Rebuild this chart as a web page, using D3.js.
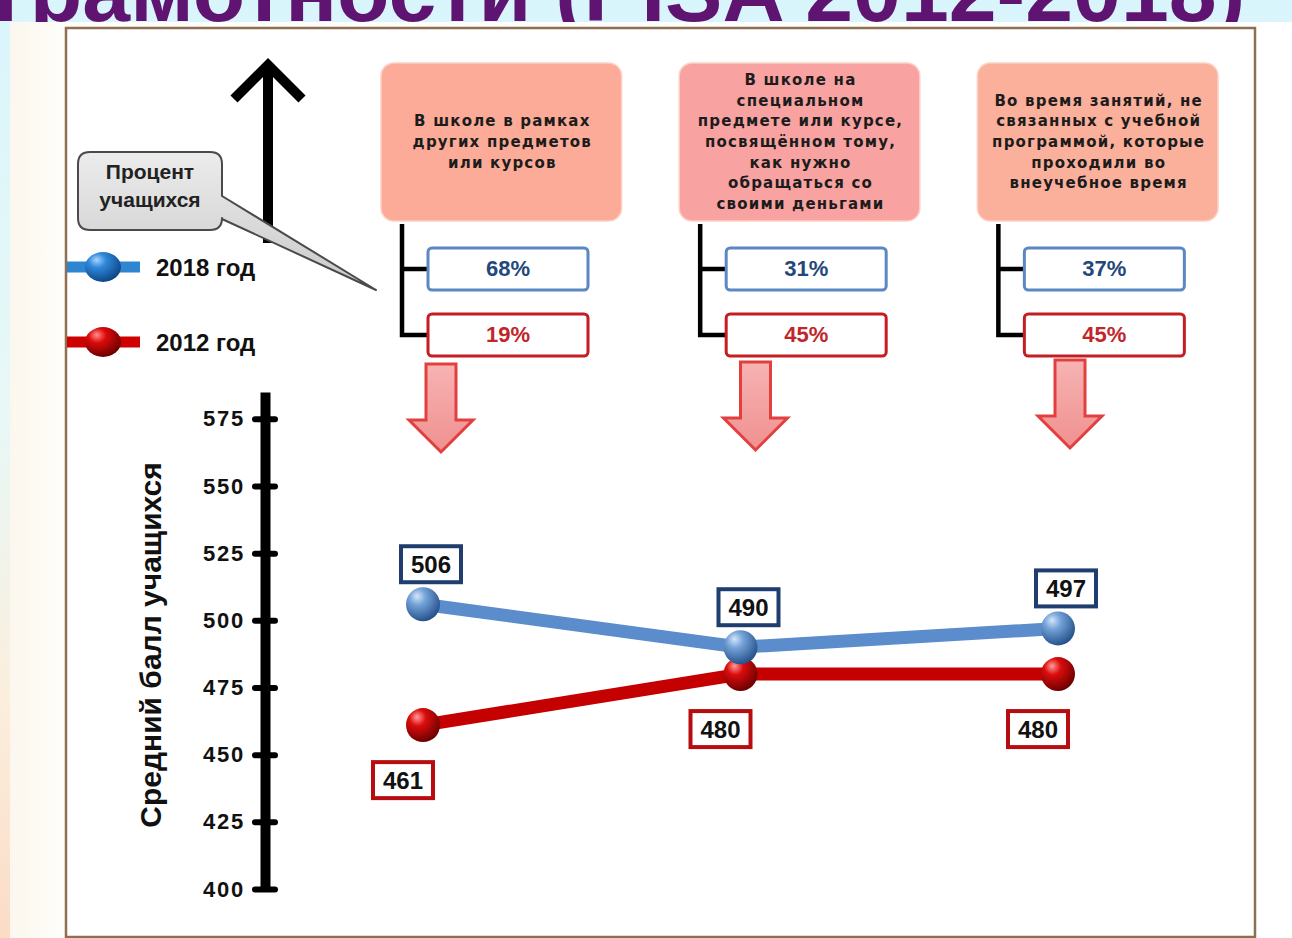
<!DOCTYPE html>
<html>
<head>
<meta charset="utf-8">
<script src="https://cdn.jsdelivr.net/npm/d3@7"></script>
<style>
  html, body { margin: 0; padding: 0; overflow: hidden; }
  body { width: 1292px; height: 938px; }
  svg { display: block; }
</style>
</head>
<body>
<script>
// ---- data ----
var categoryLines = [
  ["В школе в рамках", "других предметов", "или курсов"],
  ["В школе на", "специальном", "предмете или курсе,", "посвящённом тому,", "как нужно", "обращаться со", "своими деньгами"],
  ["Во время занятий, не", "связанных с учебной", "программой, которые", "проходили во", "внеучебное время"]
];
var years = ["2018 год", "2012 год"];
var share2018 = [68, 31, 37];
var share2012 = [19, 45, 45];
var score2018 = [506, 490, 497];
var score2012 = [461, 480, 480];
var scoreTicks = [400, 425, 450, 475, 500, 525, 550, 575];
var shareTitle = ["Процент", "учащихся"];
var axisTitle = "Средний балл учащихся";
var pageTitle = "грамотности (PISA 2012-2018)";

var W = 1292, H = 938;
var svg = d3.select("body").append("svg").attr("width", W).attr("height", H);
var defs = svg.append("defs");

function linGrad(id, x2, y2, stops) {
  var g = defs.append("linearGradient").attr("id", id)
    .attr("x1", 0).attr("y1", 0).attr("x2", x2).attr("y2", y2);
  stops.forEach(function (s) { g.append("stop").attr("offset", s[0]).attr("stop-color", s[1]); });
}
function radGrad(id, stops) {
  var g = defs.append("radialGradient").attr("id", id)
    .attr("cx", "38%").attr("cy", "32%").attr("r", "70%").attr("fx", "32%").attr("fy", "26%");
  stops.forEach(function (s) { g.append("stop").attr("offset", s[0]).attr("stop-color", s[1]); });
}
linGrad("bg", 0, 1, [["0%", "#d9f5fc"], ["45%", "#e8f8f6"], ["75%", "#fbeedd"], ["100%", "#fbdcc6"]]);
linGrad("panel", 1, 0, [["0%", "#fcf7ee"], ["4%", "#fefdf9"], ["100%", "#ffffff"]]);
linGrad("callout", 0, 1, [["0%", "#ececec"], ["100%", "#c9c9c9"]]);
linGrad("downArrow", 0, 1, [["0%", "#f7b3b3"], ["100%", "#f09090"]]);
radGrad("ballBlue", [["0%", "#d5e6f8"], ["35%", "#74a3d8"], ["100%", "#25508a"]]);
radGrad("ballRed", [["0%", "#ff9c9c"], ["35%", "#dc0c0c"], ["100%", "#6a0000"]]);
radGrad("legBlue", [["0%", "#a8d4ff"], ["35%", "#2f88da"], ["100%", "#0d4584"]]);
radGrad("legRed", [["0%", "#ff8f8f"], ["35%", "#dd0a0a"], ["100%", "#6a0000"]]);

// ---- background ----
svg.append("rect").attr("width", W).attr("height", H).attr("fill", "url(#bg)");
// page title: only its lower part shows above the panel, as in the slide
svg.append("text").attr("x", -6).attr("y", 21)
  .attr("font-family", "Liberation Sans, Arial, sans-serif").attr("font-weight", "bold")
  .attr("font-size", 86).attr("fill", "#5e1470").text(pageTitle);
svg.append("rect").attr("x", 10).attr("y", 22).attr("width", W - 10).attr("height", H - 22)
  .attr("fill", "url(#panel)");
svg.append("rect").attr("x", 66).attr("y", 28).attr("width", 1189).attr("height", 909)
  .attr("fill", "#ffffff").attr("stroke", "#8f6e52").attr("stroke-width", 2.5);

// ---- scales ----
var idx = d3.range(categoryLines.length);
var x = d3.scalePoint().domain(idx).range([423, 1058]);
var y = d3.scaleLinear().domain([400, 585]).range([889, 392]);
var band = d3.scaleBand().domain(idx).range([381, 1218]).paddingInner(0.193);

var boxFill = ["#fbab98", "#f8a3a1", "#fbb09b"];

// ---- header boxes ----
var head = svg.append("g").selectAll("g").data(idx).enter().append("g");
head.append("rect")
  .attr("x", function (d) { return band(d); }).attr("y", 63)
  .attr("width", band.bandwidth()).attr("height", 158)
  .attr("rx", 13).attr("fill", function (d) { return boxFill[d]; })
  .attr("stroke", "#fcd0c4").attr("stroke-width", 1.5);
head.each(function (d) {
  var lines = categoryLines[d];
  var lh = 20.6, cy = 142;
  d3.select(this).selectAll("text").data(lines).enter().append("text")
    .attr("x", band(d) + band.bandwidth() / 2 + 1)
    .attr("y", function (t, i) { return cy + (i - (lines.length - 1) / 2) * lh + 5; })
    .attr("text-anchor", "middle")
    .attr("font-family", "DejaVu Sans, Verdana, sans-serif").attr("font-weight", "bold")
    .attr("font-size", 15).attr("letter-spacing", 1.2).attr("fill", "#1c1c1c")
    .text(function (t) { return t; });
});

// ---- brackets and share boxes ----
var shares = [
  { values: share2018, stroke: "#5b87c2", text: "#24487c", top: 248 },
  { values: share2012, stroke: "#c41e22", text: "#c0262a", top: 314 }
];
var br = svg.append("g").selectAll("g").data(idx).enter().append("g");
br.append("path")
  .attr("d", function (d) {
    var bx = band(d) + 21;
    return "M" + bx + ",224V335H" + (bx + 26) + "M" + bx + ",269H" + (bx + 26);
  })
  .attr("fill", "none").attr("stroke", "#000").attr("stroke-width", 4.5);
shares.forEach(function (s) {
  br.append("rect")
    .attr("x", function (d) { return band(d) + 47; }).attr("y", s.top)
    .attr("width", 160).attr("height", 42).attr("rx", 4)
    .attr("fill", "#fff").attr("stroke", s.stroke).attr("stroke-width", 3);
  br.append("text")
    .attr("x", function (d) { return band(d) + 127; }).attr("y", s.top + 28)
    .attr("text-anchor", "middle")
    .attr("font-family", "Liberation Sans, Arial, sans-serif").attr("font-weight", "bold")
    .attr("font-size", 22).attr("fill", s.text)
    .text(function (d) { return s.values[d] + "%"; });
});

// ---- down arrows ----
function downArrow(cx, top) {
  var sh = 15, hh = 32, sb = top + 56, tip = top + 88;
  return "M" + (cx - sh) + "," + top + "H" + (cx + sh) + "V" + sb + "H" + (cx + hh) +
    "L" + cx + "," + tip + "L" + (cx - hh) + "," + sb + "H" + (cx - sh) + "Z";
}
svg.append("g").selectAll("path").data(idx).enter().append("path")
  .attr("d", function (d) { return downArrow(x(d) + 18 - d * 3, 364 - d * 2); })
  .attr("fill", "url(#downArrow)").attr("stroke", "#e2403e").attr("stroke-width", 3)
  .attr("stroke-linejoin", "miter");

// ---- upward arrow ----
svg.append("path").attr("d", "M268,243V66M234,99L268,65L302,99")
  .attr("fill", "none").attr("stroke", "#000").attr("stroke-width", 10)
  .attr("stroke-linejoin", "miter");

// ---- callout ----
svg.append("path")
  .attr("d", "M90,152H210Q222,152 222,164V196L376,290L222,219V218Q222,230 210,230H90Q78,230 78,218V164Q78,152 90,152Z")
  .attr("fill", "url(#callout)").attr("stroke", "#4a4a4a").attr("stroke-width", 2)
  .attr("stroke-linejoin", "round");
svg.append("g").selectAll("text").data(shareTitle).enter().append("text")
  .attr("x", 150).attr("y", function (d, i) { return 179 + i * 28; })
  .attr("text-anchor", "middle")
  .attr("font-family", "Liberation Sans, Arial, sans-serif").attr("font-weight", "bold")
  .attr("font-size", 21).attr("fill", "#222").text(function (d) { return d; });

// ---- legend ----
var legend = [
  { name: years[0], line: "#2f86d0", ball: "url(#legBlue)", y: 267 },
  { name: years[1], line: "#cf0000", ball: "url(#legRed)", y: 342 }
];
var lg = svg.append("g").selectAll("g").data(legend).enter().append("g");
lg.append("line").attr("x1", 67).attr("x2", 140)
  .attr("y1", function (d) { return d.y; }).attr("y2", function (d) { return d.y; })
  .attr("stroke", function (d) { return d.line; }).attr("stroke-width", 11);
lg.append("ellipse").attr("cx", 103).attr("cy", function (d) { return d.y; })
  .attr("rx", 18).attr("ry", 15).attr("fill", function (d) { return d.ball; });
lg.append("text").attr("x", 156).attr("y", function (d) { return d.y + 9; })
  .attr("font-family", "Liberation Sans, Arial, sans-serif").attr("font-weight", "bold")
  .attr("font-size", 24).attr("fill", "#111").text(function (d) { return d.name; });

// ---- y axis ----
var axis = d3.axisLeft(y).tickValues(scoreTicks).tickSize(10).tickSizeOuter(0).tickPadding(10);
var ga = svg.append("g").attr("transform", "translate(265,0)").call(axis);
ga.select(".domain").attr("stroke", "#000").attr("stroke-width", 10);
ga.selectAll(".tick line").attr("x1", 10).attr("stroke", "#000").attr("stroke-width", 6)
  .attr("stroke-linecap", "round");
ga.selectAll(".tick text")
  .attr("font-family", "Liberation Sans, Arial, sans-serif").attr("font-weight", "bold")
  .attr("font-size", 22).attr("letter-spacing", 1.8).attr("fill", "#111");
svg.append("text")
  .attr("transform", "translate(161,645) rotate(-90)")
  .attr("text-anchor", "middle")
  .attr("font-family", "Liberation Sans, Arial, sans-serif").attr("font-weight", "bold")
  .attr("font-size", 30).attr("fill", "#111").text(axisTitle);

// ---- lines ----
var series = [
  { values: score2012, line: "#c40000", ball: "url(#ballRed)", box: "#b80d10", dx: -20, dy: 55 },
  { values: score2018, line: "#5b8ccb", ball: "url(#ballBlue)", box: "#1f3d6e", dx: 8, dy: -40 }
];
var lineGen = d3.line().x(function (d, i) { return x(i); }).y(function (d) { return y(d); });
series.forEach(function (s) {
  var g = svg.append("g");
  g.append("path").datum(s.values).attr("d", lineGen)
    .attr("fill", "none").attr("stroke", s.line).attr("stroke-width", 13)
    .attr("stroke-linejoin", "round");
  g.selectAll("circle").data(s.values).enter().append("circle")
    .attr("cx", function (d, i) { return x(i); }).attr("cy", function (d) { return y(d); })
    .attr("r", 17).attr("fill", s.ball);
});
series.forEach(function (s) {
  var g = svg.append("g");
  var lab = g.selectAll("g").data(s.values).enter().append("g")
    .attr("transform", function (d, i) { return "translate(" + (x(i) + s.dx) + "," + (y(d) + s.dy) + ")"; });
  lab.append("rect").attr("x", -30).attr("y", -18).attr("width", 60).attr("height", 36)
    .attr("fill", "#fff").attr("stroke", s.box).attr("stroke-width", 4);
  lab.append("text").attr("y", 9).attr("text-anchor", "middle")
    .attr("font-family", "Liberation Sans Narrow, Arial Narrow, Liberation Sans, sans-serif")
    .attr("font-weight", "bold").attr("font-size", 24).attr("fill", "#111")
    .text(function (d) { return d; });
});
</script>
</body>
</html>
